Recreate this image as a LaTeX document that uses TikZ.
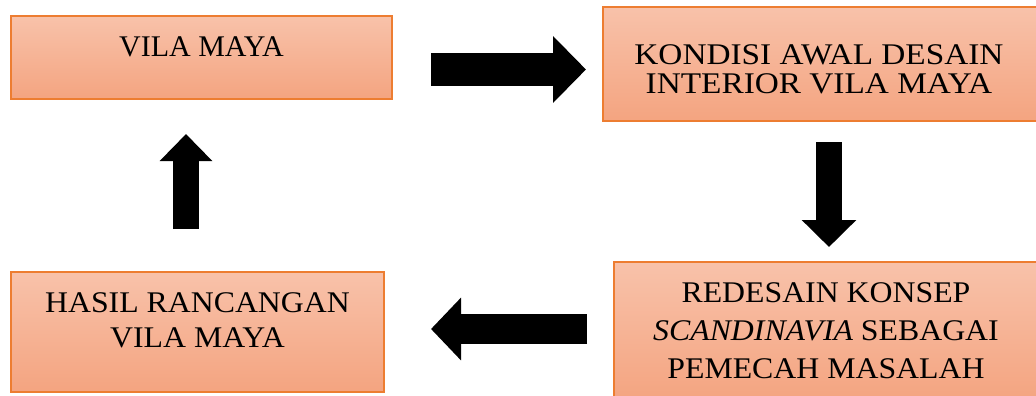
\documentclass[tikz,border=0pt]{standalone}
\usepackage{fontspec}
\setmainfont{Liberation Serif}
\usetikzlibrary{arrows.meta}
\definecolor{boxtop}{HTML}{F8C2AA}
\definecolor{boxbot}{HTML}{F4A480}
\definecolor{boxline}{HTML}{ED7D31}
\tikzset{
  box/.style={rectangle, draw=boxline, line width=1.2pt, top color=boxtop, bottom color=boxbot, inner sep=0pt},
  boxtext/.style={anchor=base, align=center, inner sep=0pt, text=black},
  blockarrow/.style={line width=#1, draw=black}
}
\begin{document}
\begin{tikzpicture}[x=1pt,y=-1pt]
\useasboundingbox (0,0) rectangle (1036,396);
% boxes
\node[box, minimum width=381pt, minimum height=83pt] (b1) at (201.5,57.5) {};
\node[box, minimum width=434pt, minimum height=114pt] (b2) at (820,64) {};
\node[box, minimum width=428pt, minimum height=140pt] (b3) at (828,332) {};
\node[box, minimum width=373pt, minimum height=120pt] (b4) at (197.5,332) {};
% texts (base anchor = baseline of the last line)
\node[boxtext, font=\fontsize{30}{30}\selectfont] (t1) at (201.5,57) {VILA MAYA};
\node[boxtext, font=\fontsize{30}{29}\selectfont\addfontfeature{FakeStretch=1.11}] (t2) at (819,93) {KONDISI AWAL DESAIN\\INTERIOR VILA MAYA};
\node[boxtext, font=\fontsize{30}{38}\selectfont\addfontfeature{FakeStretch=1.06}] (t3) at (826,378) {REDESAIN KONSEP\\{\itshape\addfontfeature{FakeStretch=1.06}SCANDINAVIA} SEBAGAI\\PEMECAH MASALAH};
\node[boxtext, font=\fontsize{30}{35}\selectfont\addfontfeature{FakeStretch=1.06}] (t4) at (197.5,347) {HASIL RANCANGAN\\VILA MAYA};
% arrow end points
\coordinate (a1s) at (431,69.5);
\coordinate (a1e) at (586,69.5);
\coordinate (a2s) at (829,142);
\coordinate (a2e) at (829,247);
\coordinate (a3s) at (587,329);
\coordinate (a3e) at (431,329);
\coordinate (a4s) at (186,229);
\coordinate (a4e) at (186,134);
% block arrows
\draw[blockarrow=33pt, -{Triangle[length=33pt, width=65pt]}] (a1s) -- (a1e);
\draw[blockarrow=26pt, -{Triangle[length=27pt, width=53pt]}] (a2s) -- (a2e);
\draw[blockarrow=30pt, -{Triangle[length=30pt, width=61pt]}] (a3s) -- (a3e);
\draw[blockarrow=26pt, -{Triangle[length=27pt, width=51pt]}] (a4s) -- (a4e);
\end{tikzpicture}
\end{document}
